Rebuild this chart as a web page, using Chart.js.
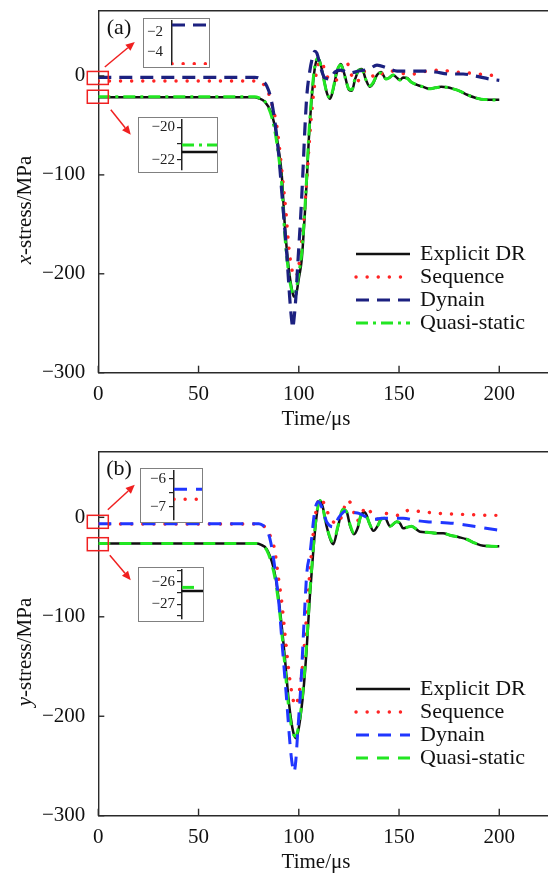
<!DOCTYPE html>
<html>
<head>
<meta charset="utf-8">
<title>x-stress / y-stress</title>
<style>
  body { margin: 0; background: #fff; }
  #wrap { position: relative; width: 548px; height: 875px; overflow: hidden; }
  #wrap > canvas { position: absolute; left: 0; }
  .inset { position: absolute; border: 1px solid #808080; background: #fff; }
  .inset canvas { display: block; }
</style>
</head>
<body>
<div id="wrap">
  <canvas id="chartA" width="548" height="435" style="top:0px"></canvas>
  <canvas id="chartB" width="548" height="440" style="top:435px"></canvas>
  <div class="inset" style="left:143px;top:18px;width:65px;height:48px"><canvas id="insA1" width="65" height="48"></canvas></div>
  <div class="inset" style="left:138px;top:117px;width:78px;height:54px"><canvas id="insA2" width="78" height="54"></canvas></div>
  <div class="inset" style="left:140px;top:468px;width:61px;height:53px"><canvas id="insB1" width="61" height="53"></canvas></div>
  <div class="inset" style="left:138px;top:567px;width:64px;height:53px"><canvas id="insB2" width="64" height="53"></canvas></div>
</div>

<script src="https://cdn.jsdelivr.net/npm/chart.js"></script>
<script>
// ---- data ----
const xTicks = [0, 50, 100, 150, 200];
const yTicks = [-300, -200, -100, 0];

// (a) x-stress
const tA = [0, 78, 80, 83, 86, 88, 90, 91.5, 93, 95, 96.5, 97.5, 98.5, 100, 101.5, 103, 104, 105, 106.5, 108,
  109.5, 110.5, 112, 114, 115.6, 117, 119, 121, 123, 125, 126.5, 128, 130, 131.5, 133.5, 135.5, 137, 139, 141, 143.5,
  145, 147, 149, 150.5, 152, 154, 156, 159, 162, 165, 168, 171, 174, 177, 180, 184, 188, 191, 195, 200];
const drA = [-21.5, -21.5, -22.5, -26, -36, -50, -75, -100, -150, -195, -215, -223, -222, -205, -185, -140, -105, -64, -21, 8,
  18, 15, 2, -17, -23, -15, 4, 12, 0, -14, -15, -4, 6, 7, -4, -11, -8, 1, 4, -3,
  -2, 1, -2, -4, -1.5, -2, -6, -9, -11, -13, -12, -11, -11.5, -13, -15, -19, -22, -23.5, -24, -24];
const quA = [-21.1, -21.1, -22, -25.5, -38, -55, -82, -110, -160, -200, -217, -221, -218, -200, -178, -135, -100, -60, -18, 10,
  18, 14, 1, -17, -22, -14, 5, 11, -1, -13, -14, -3, 6, 6, -4, -10, -7, 1, 3, -3,
  -2, 1, -2, -4, -2, -2.5, -6, -9, -11, -13, -12, -11, -11.5, -13, -15, -19, -22, -23.5, -24, -24.5];
const seqA_t = [0, 79, 81, 83, 85, 87.3, 89, 90.5, 92, 93.5, 95, 96.5, 98, 99.5, 101, 102.5, 104, 105.5, 107, 108.5,
  110, 111.4, 113, 116, 119.7, 122, 124, 126.5, 129, 132, 135, 138, 142, 146, 150, 157, 164, 170, 178, 185, 192, 200];
const seqA = [-5.1, -5.1, -6, -10, -18, -34, -50, -75, -105, -135, -172, -195, -203, -198, -175, -145, -105, -60, -25, 0,
  13, 15, 5, -5, -3, 8, 13, 0, -6, 4, 5, -2, 3, 5, 3, 2, 5, 6, 4, 3, 1.5, 0];
const dyA_t = [0, 78, 80, 82, 84, 86, 88, 90, 92, 94, 95.5, 96.5, 97, 97.5, 98.5, 99.5, 101, 102, 103, 104,
  105.5, 107, 108, 109, 111, 113, 115.5, 118, 121, 125, 130, 135, 139, 144, 149, 155, 162, 168, 175, 182, 188, 195, 200];
const dyA = [-1.35, -1.35, -2, -5, -10, -22, -45, -80, -130, -180, -225, -248, -255, -248, -225, -190, -140, -100, -55, -20,
  5, 20, 25, 23, 8, -2, -3, 4, 6, 3, 5, 7, 11, 8, 5, 5, 5, 4, 2, 2, 0, -3, -4.5];

// (b) y-stress
const tB = [0, 79, 81, 84, 87.3, 89, 91, 93, 95, 96.5, 97.5, 98.6, 99.6, 101, 102.5, 104, 105.5, 107, 108.5, 110.6,
  112, 114, 117.2, 119.5, 122, 124, 125.5, 127.5, 129.5, 131, 133, 135, 137.2, 139.5, 141, 143, 145.5, 148.8, 150.5, 152,
  154, 156.3, 158, 160.5, 164, 168.8, 172, 175.4, 180, 183.7, 188, 192, 196, 200];
const drB = [-26.4, -26.4, -27.5, -32, -50, -68, -100, -140, -185, -208, -218, -222, -216, -198, -170, -130, -80, -40, -5, 17,
  10, -10, -27, -10, 8, 5, -8, -17, -10, 2, 5, -5, -13.5, -8, -2, -1, -9, -4.5, -6, -11,
  -10, -9, -11, -14.5, -15, -16, -16, -18, -20, -22, -26, -28.6, -29, -29];
const quB = [-26.25, -26.25, -27.5, -33, -53, -72, -105, -148, -192, -212, -219, -220, -213, -195, -165, -125, -76, -37, -3, 17,
  9, -10, -25, -9, 8, 5, -7, -16, -9, 2, 5, -5, -13, -8, -2, -1, -9, -4.5, -6, -11,
  -10, -9, -11, -14.5, -15, -16, -16, -18, -20, -22, -26, -28.6, -29, -29.5];
const seqB_t = [0, 80, 82, 84, 86, 88, 89.8, 91.5, 93, 94.5, 96, 97.5, 98.5, 99.5, 101, 102.5, 104, 105.5, 107, 108.5,
  110.8, 113, 116, 119.7, 122, 124, 126.5, 128.9, 131, 133.5, 136, 139, 142.7, 146, 150, 154.8, 160, 167, 174, 181, 188, 196, 200];
const seqB = [-6.73, -6.73, -8, -12, -20, -33, -60, -85, -115, -145, -170, -186, -189, -183, -165, -135, -95, -55, -20, 5,
  20, 12, -2, -6, 5, 17, 12, -4, 2, 10.5, 5, -2, 4, 3, 2, 7, 6, 4.5, 3.5, 3, 2.5, 2, 2];
const dyB_t = [0, 80, 82, 84, 86, 88, 90, 92, 94, 95.5, 96.5, 97.6, 98.5, 99.5, 101, 102.5, 104, 105.6, 108, 109.8,
  111.5, 114, 117.2, 120, 123.9, 127, 130, 134, 138, 141.3, 146, 152, 158, 163.8, 170, 177, 184, 190.4, 195, 200];
const dyB = [-6.37, -6.37, -8, -12, -25, -50, -85, -135, -185, -225, -245, -256, -245, -215, -170, -110, -56, -36, 7, 15.6,
  10, -5, -9.5, 0, 7, 5, 4, 0, -2, -1, -1, -1, -3, -4.5, -5, -6, -8, -10, -11.5, -13];

// insets (zoom on the initial values)
const insT = [0, 1];
const insA1_dy = [-1.35, -1.35], insA1_seq = [-5.1, -5.1];
const insA2_qu = [-21.08, -21.08], insA2_dr = [-21.51, -21.51];
const insB1_dy = [-6.37, -6.37], insB1_seq = [-6.73, -6.73];
const insB2_qu = [-26.25, -26.25], insB2_dr = [-26.41, -26.41];

const legendNames = ['Explicit DR', 'Sequence', 'Dynain', 'Quasi-static'];

// ---- styles ----
const SERIF = "'Liberation Serif', 'DejaVu Serif', serif";
const sBlack = { borderColor: '#111111', borderWidth: 2.5 };
const sRed = { borderColor: '#ff2424', borderWidth: 3.4, borderDash: [0.1, 11], borderCapStyle: 'round' };
const sNavy = { borderColor: '#1c2180', borderWidth: 3.2, borderDash: [13, 8] };
const sBlue = { borderColor: '#2036ff', borderWidth: 3, borderDash: [13, 9] };
const sGreenDD = { borderColor: '#22e622', borderWidth: 3, borderDash: [12, 5, 3, 5] };
const sGreenD = { borderColor: '#22e622', borderWidth: 3, borderDash: [12, 9] };

function pts(t, y) { return t.map((v, i) => ({ x: v, y: y[i] })); }
function ds(label, t, y, style) {
  return Object.assign({ label, data: pts(t, y), pointRadius: 0, fill: false,
    cubicInterpolationMode: 'monotone', borderCapStyle: 'butt' }, style);
}
const minus = v => String(v).replace('-', '\u2212');
// stop chart.js reserving room for half a label at the axis ends
const noPad = s => { s.paddingTop = 0; s.paddingBottom = 0; s.paddingLeft = 0; s.paddingRight = 0; };

function arrow(ctx, x1, y1, x2, y2) {
  const a = Math.atan2(y2 - y1, x2 - x1), L = 9, W = 4;
  const bx = x2 - L * Math.cos(a), by = y2 - L * Math.sin(a);
  ctx.beginPath(); ctx.moveTo(x1, y1); ctx.lineTo(bx, by); ctx.stroke();
  ctx.beginPath();
  ctx.moveTo(x2, y2);
  ctx.lineTo(bx + W * Math.sin(a), by - W * Math.cos(a));
  ctx.lineTo(bx - W * Math.sin(a), by + W * Math.cos(a));
  ctx.closePath(); ctx.fill();
}

// frame top line, inward ticks, red boxes, arrows, legend, titles
const deco = {
  id: 'deco',
  afterDraw(chart, args, o) {
    const { ctx, chartArea: a, scales: { x, y } } = chart;
    ctx.save();
    ctx.strokeStyle = '#2a2a2a'; ctx.lineWidth = 1.4;
    ctx.beginPath(); ctx.moveTo(a.left, a.top); ctx.lineTo(a.right, a.top); ctx.stroke();
    xTicks.forEach(v => {
      const px = x.getPixelForValue(v);
      ctx.beginPath(); ctx.moveTo(px, a.bottom); ctx.lineTo(px, a.bottom - 7); ctx.stroke();
    });
    yTicks.forEach(v => {
      const py = y.getPixelForValue(v);
      ctx.beginPath(); ctx.moveTo(a.left, py); ctx.lineTo(a.left + 6, py); ctx.stroke();
    });

    // red boxes and arrows
    ctx.strokeStyle = '#f02020'; ctx.fillStyle = '#f02020'; ctx.lineWidth = 1.5;
    o.boxes.forEach(b => {
      const cx = x.getPixelForValue(0) - 0.5, cy = y.getPixelForValue(b.v);
      ctx.strokeRect(cx - 10.5, cy - 6.5, 21, 13);
      arrow(ctx, cx + b.a[0], cy + b.a[1], cx + b.a[2], cy + b.a[3]);
    });

    // panel label
    ctx.fillStyle = '#111';
    ctx.font = '22px ' + SERIF;
    ctx.textAlign = 'center'; ctx.textBaseline = 'middle';
    ctx.fillText(o.label, 119, a.top + 18);

    // legend
    ctx.font = '22px ' + SERIF;
    ctx.textAlign = 'left';
    o.legend.forEach((idx, i) => {
      const d = chart.data.datasets[idx];
      const ly = o.legendTop + i * 23;
      ctx.save();
      ctx.strokeStyle = d.borderColor; ctx.lineWidth = d.borderWidth;
      ctx.setLineDash(d.borderDash || []); ctx.lineCap = d.borderCapStyle || 'butt';
      ctx.beginPath(); ctx.moveTo(356, ly); ctx.lineTo(410, ly); ctx.stroke();
      ctx.restore();
      ctx.fillStyle = '#111';
      ctx.fillText(d.label, 420, ly);
    });

    // x title
    ctx.font = '21px ' + SERIF;
    ctx.textAlign = 'center';
    ctx.fillText('Time/\u03bcs', 316, a.bottom + 47);

    // y title with italic letter
    ctx.save();
    ctx.translate(25, o.yTitleY);
    ctx.rotate(-Math.PI / 2);
    const it = 'italic 21px ' + SERIF, rg = '21px ' + SERIF;
    ctx.font = it; const w1 = ctx.measureText(o.yLetter).width;
    ctx.font = rg; const w2 = ctx.measureText('-stress/MPa').width;
    const x0 = -(w1 + w2) / 2;
    ctx.textAlign = 'left';
    ctx.font = it; ctx.fillText(o.yLetter, x0, 0);
    ctx.font = rg; ctx.fillText('-stress/MPa', x0 + w1, 0);
    ctx.restore();
    ctx.restore();
  }
};

function makeMain(id, datasets, p) {
  return new Chart(document.getElementById(id), {
    type: 'line',
    data: { datasets },
    plugins: [deco],
    options: {
      responsive: false, animation: false, devicePixelRatio: 1,
      layout: { padding: { top: p.top, right: 0, left: 0, bottom: 0 } },
      scales: {
        x: {
          type: 'linear', min: 0, max: 224.3,
          afterBuildTicks: s => { s.ticks = xTicks.map(v => ({ value: v })); },
          afterFit: s => { s.height = p.xh; noPad(s); },
          grid: { display: false, drawTicks: false },
          border: { display: true, color: '#2a2a2a', width: 1.4 },
          ticks: { font: { family: SERIF, size: 21 }, color: '#111', padding: 9, maxRotation: 0, autoSkip: false }
        },
        y: {
          type: 'linear', min: -300, max: 66,
          afterBuildTicks: s => { s.ticks = yTicks.map(v => ({ value: v })); },
          afterFit: s => { s.width = 98.3; noPad(s); },
          grid: { display: false, drawTicks: false },
          border: { display: true, color: '#2a2a2a', width: 1.4 },
          ticks: { font: { family: SERIF, size: 21 }, color: '#111', padding: 13, autoSkip: false, callback: minus }
        }
      },
      plugins: { legend: { display: false }, tooltip: { enabled: false }, deco: p.deco }
    }
  });
}

// datasets: first in the list is drawn on top
const dsA = [
  ds('Dynain', dyA_t, dyA, sNavy),
  ds('Quasi-static', tA, quA, sGreenDD),
  ds('Sequence', seqA_t, seqA, sRed),
  ds('Explicit DR', tA, drA, sBlack)
];
const dsB = [
  ds('Dynain', dyB_t, dyB, sBlue),
  ds('Quasi-static', tB, quB, sGreenD),
  ds('Sequence', seqB_t, seqB, sRed),
  ds('Explicit DR', tB, drB, sBlack)
];
const legendIdx = legendNames.map(n => dsA.findIndex(d => d.label === n));

makeMain('chartA', dsA, {
  top: 10.7, xh: 62.3,
  deco: { label: '(a)', yLetter: 'x', yTitleY: 210, legendTop: 254, legend: legendIdx,
    boxes: [ { v: -2, a: [7, -11, 37, -36] }, { v: -21, a: [13, 13, 33, 38] } ] }
});
makeMain('chartB', dsB, {
  top: 16.7, xh: 59.3,
  deco: { label: '(b)', yLetter: 'y', yTitleY: 217, legendTop: 254, legend: legendIdx,
    boxes: [ { v: -4.5, a: [10, -12, 37, -37] }, { v: -27, a: [12, 11, 33, 36] } ] }
});

// ---- insets ----
function makeInset(id, datasets, p) {
  return new Chart(document.getElementById(id), {
    type: 'line',
    data: { datasets },
    options: {
      responsive: false, animation: false, devicePixelRatio: 1,
      layout: { padding: { top: 2, bottom: 2, left: 0, right: 0 } },
      scales: {
        x: { type: 'linear', min: 0, max: 1, display: false },
        y: {
          type: 'linear', min: p.min, max: p.max,
          afterBuildTicks: s => { s.ticks = p.ticks.map(v => ({ value: v })); },
          afterFit: s => { s.width = p.w; noPad(s); },
          grid: { drawOnChartArea: false, drawTicks: p.tl > 0, tickLength: p.tl, color: '#222', lineWidth: 1.2 },
          border: { display: true, color: '#222', width: 1.5 },
          ticks: { font: { family: SERIF, size: 15 }, color: '#222', padding: p.pad, autoSkip: false,
            callback: v => (p.labels.includes(v) ? minus(v) : '') }
        }
      },
      plugins: { legend: { display: false }, tooltip: { enabled: false } }
    }
  });
}

makeInset('insA1', [ds('Dynain', insT, insA1_dy, sNavy), ds('Sequence', insT, insA1_seq, sRed)],
  { min: -5.23, max: -0.96, ticks: [-2, -4], labels: [-2, -4], w: 28, tl: 0, pad: 9 });
makeInset('insA2', [ds('Quasi-static', insT, insA2_qu, sGreenDD), ds('Explicit DR', insT, insA2_dr, sBlack)],
  { min: -22.61, max: -19.55, ticks: [-20, -21, -22], labels: [-20, -22], w: 43, tl: 5, pad: 2 });
makeInset('insB1', [ds('Dynain', insT, insB1_dy, sBlue), ds('Sequence', insT, insB1_seq, sRed)],
  { min: -7.48, max: -5.71, ticks: [-6, -6.5, -7], labels: [-6, -7], w: 33, tl: 5, pad: 3 });
makeInset('insB2', [ds('Quasi-static', insT, insB2_qu, sGreenD), ds('Explicit DR', insT, insB2_dr, sBlack)],
  { min: -27.65, max: -25.48, ticks: [-25.5, -26, -26.5, -27, -27.5], labels: [-26, -27], w: 43, tl: 5, pad: 2 });
</script>
</body>
</html>
